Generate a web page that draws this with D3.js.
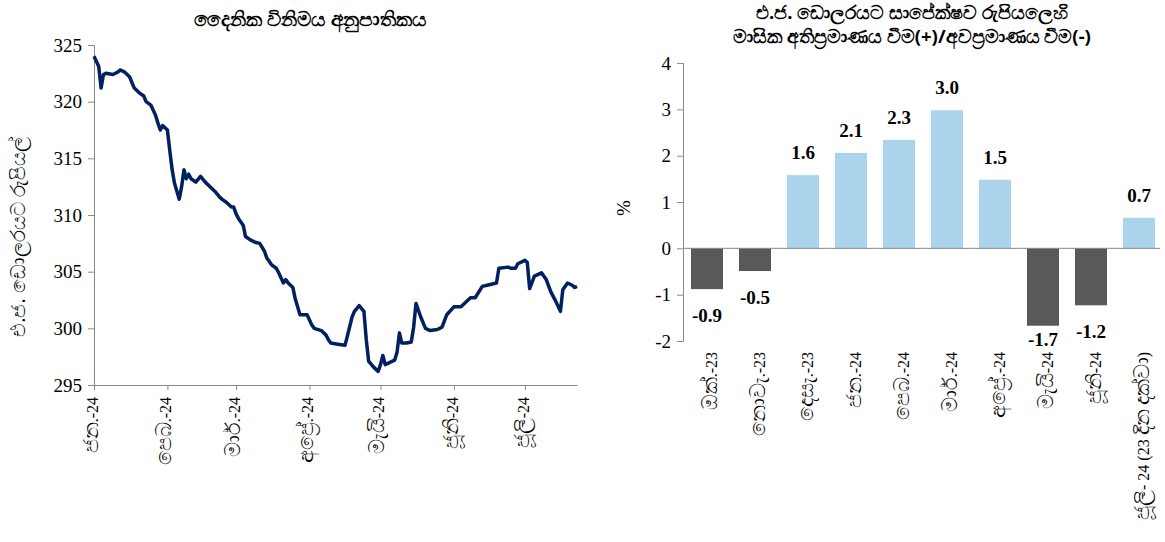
<!DOCTYPE html>
<html lang="si">
<head>
<meta charset="utf-8">
<title>Exchange rate</title>
<script src="https://d3js.org/d3.v7.min.js"></script>
<style>
  body { margin: 0; background: #fff; font-family: "Noto Sans", sans-serif; }
  svg { display: block; }
  .axis path, .axis line { stroke: #898989; }
</style>
</head>
<body>
<svg id="chart" width="1165" height="542"></svg>
<script>
// ---- left chart: daily rate ----
const rateDates = [
  "01-01","01-03","01-04","01-05","01-06","01-09","01-11","01-12","01-14","01-16",
  "01-18","01-20","01-22","01-23","01-25","01-27","01-28","01-29","01-30","02-01",
  "02-02","02-03","02-04","02-06","02-07","02-08","02-09","02-10","02-11","02-13",
  "02-15","02-17","02-19","02-21","02-23","02-24","02-26","02-28","02-29","03-01",
  "03-02","03-04","03-05","03-07","03-09","03-11","03-13","03-14","03-16","03-18",
  "03-19","03-21","03-22","03-23","03-25","03-26","03-27","03-28","03-31","04-02",
  "04-03","04-06","04-08","04-09","04-10","04-13","04-16","04-17","04-19","04-20",
  "04-22","04-24","04-25","04-26","04-28","04-30","05-01","05-02","05-03","05-05",
  "05-07","05-08","05-09","05-10","05-12","05-14","05-15","05-16","05-18","05-20",
  "05-22","05-25","05-27","05-29","06-01","06-04","06-06","06-08","06-10","06-13",
  "06-15","06-19","06-20","06-24","06-25","06-27","06-28","07-01","07-02","07-03",
  "07-05","07-08","07-10","07-12","07-14","07-16","07-17","07-19","07-21","07-22",
  "07-23"
];
const rateValues = [
  324.0,323.1,321.2,322.4,322.5,322.4,322.6,322.8,322.6,322.2,
  321.2,320.8,320.5,320.0,319.7,318.8,318.1,317.5,317.9,317.5,
  315.7,314.0,312.8,311.4,312.5,314.0,313.2,313.6,313.2,312.9,
  313.4,312.9,312.5,312.1,311.6,311.4,311.1,310.7,310.7,310.1,
  309.7,309.1,308.1,307.8,307.6,307.5,306.8,306.2,305.6,305.3,
  304.9,304.0,304.3,304.0,303.6,302.6,301.9,301.2,301.2,300.3,
  300.0,299.8,299.4,299.0,298.7,298.6,298.5,299.3,301.0,301.5,
  302.0,301.5,299.0,297.1,296.6,296.2,296.8,297.6,296.8,297.0,
  297.2,297.9,299.6,298.7,298.7,298.8,300.1,302.2,301.0,300.0,
  299.8,299.9,300.1,301.2,301.9,301.9,302.3,302.7,302.7,303.7,
  303.8,304.0,305.3,305.4,305.3,305.3,305.7,306.0,305.8,303.5,
  304.6,304.9,304.3,303.2,302.4,301.5,303.4,304.0,303.8,303.6,
  303.7
];
const rateTicks = [295, 300, 305, 310, 315, 320, 325];
const monthTicks = ["01-01","02-01","03-01","04-01","05-01","06-01","07-01"];
const monthLabels = ["ජන.-24","පෙබ.-24","මාර්.-24","අප්‍රේ.-24","මැයි-24","ජූනි-24","ජූලි-24"];

// ---- right chart: monthly change ----
const months = ["ඔක්.-23","නොවැ.-23","දෙසැ.-23","ජන.-24","පෙබ.-24","මාර්.-24","අප්‍රේ.-24","මැයි-24","ජූනි-24","ජූලි- 24 (23 දින දක්වා)"];
const changeValues = [-0.88, -0.49, 1.58, 2.06, 2.34, 2.98, 1.48, -1.67, -1.23, 0.66];
const pctTicks = [-2, -1, 0, 1, 2, 3, 4];

const serif = "'Liberation Serif', 'Times New Roman', serif";
const svg = d3.select("#chart");
const parse = s => d3.timeParse("%Y-%m-%d")("2024-" + s);

// sinhala glyphs come out small in the fallback font, so size them up separately
function mixedText(sel, str, siSize, latinSize) {
  sel.text(null);
  str.split(/([\u0D80-\u0DFF\u200D]+)/).filter(s => s.length).forEach(part => {
    const si = /[\u0D80-\u0DFF]/.test(part);
    sel.append("tspan")
      .attr("font-size", si ? siSize : latinSize)
      .attr("font-family", si ? null : serif)
      .text(part);
  });
}

// ================= left =================
const x = d3.scaleTime()
  .domain([parse("01-01"), parse("07-23")])
  .range([94, 577]);
const y = d3.scaleLinear().domain([295, 325]).range([385, 45]);

svg.append("text")
  .attr("x", 310).attr("y", 26)
  .attr("text-anchor", "middle")
  .attr("font-size", 19.5).attr("font-weight", "bold")
  .text("දෛනික විනිමය අනුපාතිකය");

const yAxisL = svg.append("g")
  .attr("class", "axis")
  .attr("transform", "translate(94,0)")
  .call(d3.axisLeft(y).tickValues(rateTicks).tickSize(6).tickSizeOuter(6));
yAxisL.selectAll("text")
  .attr("font-family", serif).attr("font-size", 19).attr("fill", "#000")
  .attr("x", -12);

const xAxisL = svg.append("g")
  .attr("class", "axis")
  .attr("transform", "translate(0,385)")
  .call(d3.axisBottom(x)
    .tickValues(monthTicks.map(parse))
    .tickFormat((d, i) => monthLabels[i])
    .tickSize(5).tickSizeOuter(0));
xAxisL.selectAll("text")
  .attr("fill", "#000")
  .attr("transform", "rotate(-90)")
  .attr("text-anchor", "end")
  .attr("x", -12).attr("y", 0).attr("dy", "0.35em")
  .each(function(d, i) { mixedText(d3.select(this), monthLabels[i], 21, 16); });

svg.append("text")
  .attr("transform", "translate(25,237) rotate(-90)")
  .attr("text-anchor", "middle")
  .attr("font-size", 19.5)
  .text("එ.ජ. ඩොලරයට රුපියල්");

const lineData = rateDates.map((d, i) => ({date: parse(d), value: rateValues[i]}));
svg.append("path")
  .datum(lineData)
  .attr("fill", "none")
  .attr("stroke", "#002060")
  .attr("stroke-width", 3.5)
  .attr("stroke-linejoin", "round")
  .attr("d", d3.line().x(d => x(d.date)).y(d => y(d.value)));

// ================= right =================
const xb = d3.scaleBand().domain(months).range([683, 1163]).paddingInner(1/3).paddingOuter(1/6);
const yb = d3.scaleLinear().domain([-2, 4]).range([341, 63]);

const title2 = svg.append("text")
  .attr("text-anchor", "middle")
  .attr("font-size", 18.5).attr("font-weight", "bold");
title2.append("tspan").attr("x", 912).attr("y", 19).text("එ.ජ. ඩොලරයට සාපේක්ෂව රුපියලෙහි");
title2.append("tspan").attr("x", 912).attr("y", 43).text("මාසික අතිප්‍රමාණය වීම(+)/අවප්‍රමාණය වීම(-)");

svg.append("g").selectAll("rect")
  .data(changeValues)
  .join("rect")
  .attr("x", (d, i) => xb(months[i]))
  .attr("width", xb.bandwidth())
  .attr("y", d => yb(Math.max(0, d)))
  .attr("height", d => Math.abs(yb(d) - yb(0)))
  .attr("fill", d => d >= 0 ? "#abd4ec" : "#595959");

// labels sit outside the bar end, kept near the plot area
svg.append("g").selectAll("text")
  .data(changeValues)
  .join("text")
  .attr("x", (d, i) => xb(months[i]) + xb.bandwidth() / 2)
  .attr("y", d => d >= 0 ? yb(d) - 16 : Math.min(yb(d) + 33, 346))
  .attr("text-anchor", "middle")
  .attr("font-family", serif).attr("font-size", 19).attr("font-weight", "bold")
  .text(d => d.toFixed(1));

const yAxisR = svg.append("g")
  .attr("class", "axis")
  .attr("transform", "translate(683,0)")
  .call(d3.axisLeft(yb).tickValues(pctTicks).tickFormat(d => String(d)).tickSize(6).tickSizeOuter(6));
yAxisR.selectAll("text")
  .attr("font-family", serif).attr("font-size", 19).attr("fill", "#000")
  .attr("x", -12);

svg.append("line")
  .attr("x1", 683).attr("x2", 1160)
  .attr("y1", yb(0)).attr("y2", yb(0))
  .attr("stroke", "#898989");

svg.append("g").selectAll("text")
  .data(months)
  .join("text")
  .attr("transform", d => `translate(${xb(d) + xb.bandwidth() / 2 + 4},352) rotate(-90)`)
  .attr("text-anchor", "end")
  .attr("dy", "0.35em")
  .attr("fill", "#000")
  .each(function(d) { mixedText(d3.select(this), d, 21, 16); });

svg.append("text")
  .attr("transform", "translate(630,208) rotate(-90)")
  .attr("text-anchor", "middle")
  .attr("font-family", serif).attr("font-size", 19)
  .text("%");
</script>
</body>
</html>
